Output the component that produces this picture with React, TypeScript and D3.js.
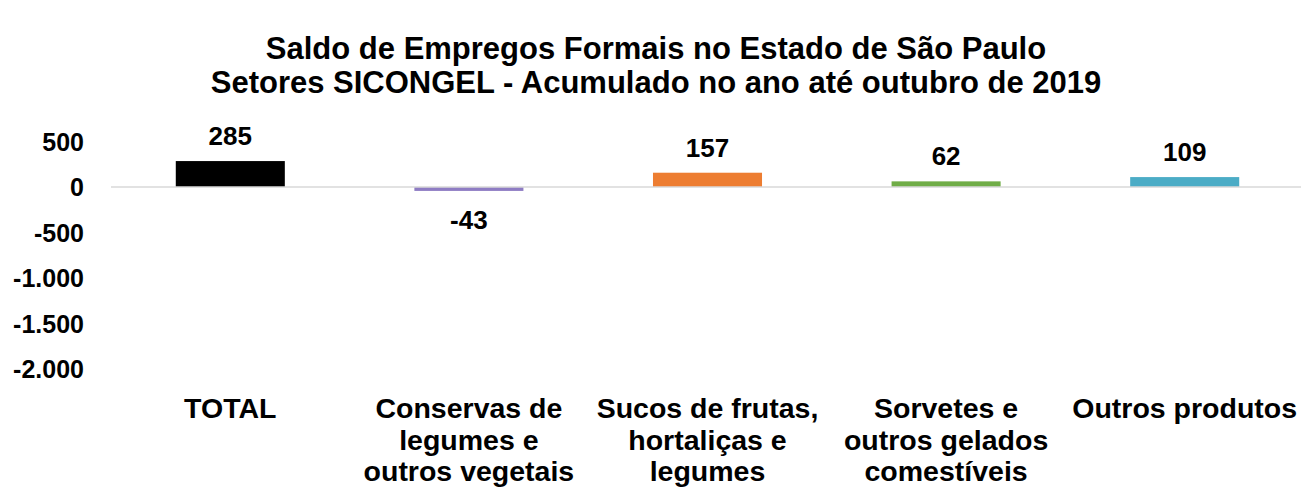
import React from 'react';
import * as d3 from 'd3';

const categories = ['TOTAL', 'Conservas', 'Sucos', 'Sorvetes', 'Outros'];
const categoryLines = [
  ['TOTAL'],
  ['Conservas de', 'legumes e', 'outros vegetais'],
  ['Sucos de frutas,', 'hortaliças e', 'legumes'],
  ['Sorvetes e', 'outros gelados', 'comestíveis'],
  ['Outros produtos'],
];
const values = [285, -43, 157, 62, 109];
const barColors = ['#000000', '#8e7cc3', '#ed7d31', '#70ad47', '#4bacc6'];
const yTicks = [500, 0, -500, -1000, -1500, -2000];
const titleLines = [
  'Saldo de Empregos Formais no Estado de São Paulo',
  'Setores SICONGEL - Acumulado no ano até outubro de 2019',
];

const W = 1301;
const H = 488;
const FONT = 'Liberation Sans, Arial, sans-serif';

const fmt = (v: number) => d3.format(',')(v).replace(/,/g, '.').replace('−', '-');

export default function App() {
  const x = d3.scaleBand<string>()
    .domain(categories)
    .range([111, 1304])
    .paddingInner(0.543)
    .paddingOuter(0.2715);

  const y = d3.scaleLinear()
    .domain([-2000, 500])
    .range([369, 141.5]);

  return (
    <svg width={W} height={H} style={{ position: 'absolute', left: 0, top: 0 }}
      fontFamily={FONT} fontWeight="bold">
      {titleLines.map((t, i) => (
        <text key={i} x={656} y={48 + i * 34} textAnchor="middle" dominantBaseline="central"
          fontSize={31}>{t}</text>
      ))}

      {yTicks.map(t => (
        <text key={t} x={84} y={y(t)} textAnchor="end" dominantBaseline="central"
          fontSize={25}>{fmt(t)}</text>
      ))}

      {categories.map((c, i) => {
        const v = values[i];
        const y0 = y(0);
        const yv = y(v);
        return (
          <rect key={c} x={x(c)} y={Math.min(y0, yv)} width={x.bandwidth()}
            height={Math.abs(yv - y0)} fill={barColors[i]} />
        );
      })}

      <line x1={111} x2={W} y1={y(0)} y2={y(0)} stroke="#d9d9d9" strokeWidth={1.5} />

      {categories.map((c, i) => {
        const v = values[i];
        const cx = (x(c) as number) + x.bandwidth() / 2;
        const ly = v >= 0 ? y(v) - 25 : y(v) + 29;
        return (
          <text key={c} x={cx} y={ly} textAnchor="middle" dominantBaseline="central"
            fontSize={26}>{fmt(v)}</text>
        );
      })}

      {categories.map((c, i) => {
        const cx = (x(c) as number) + x.bandwidth() / 2;
        return categoryLines[i].map((l, j) => (
          <text key={c + j} x={cx} y={408 + j * 31.5} textAnchor="middle"
            dominantBaseline="central" fontSize={28.5}>{l}</text>
        ));
      })}
    </svg>
  );
}
